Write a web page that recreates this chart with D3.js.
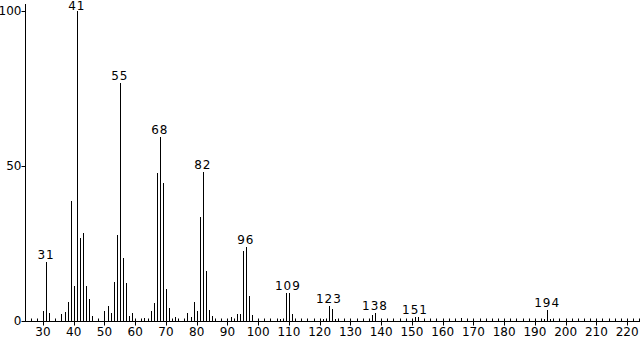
<!DOCTYPE html>
<html>
<head>
<meta charset="utf-8">
<script src="https://cdn.jsdelivr.net/npm/d3@7"></script>
<style>
  body { margin: 0; background: #fff; }
  svg text { font-family: "DejaVu Sans", Verdana, sans-serif; font-size: 12px; fill: #000; }
</style>
</head>
<body>
<svg id="chart" width="644" height="339"></svg>
<script>
// m/z と相対強度
const mz = [30, 31, 32, 36, 37, 38, 39, 40, 41, 42, 43, 44, 45, 46,
            50, 51, 52, 53, 54, 55, 56, 57, 58, 59, 63, 65, 66, 67, 68, 69, 70, 71, 73,
            77, 78, 79, 80, 81, 82, 83, 84, 85, 91, 93, 94, 95, 96, 97, 98,
            107, 108, 109, 110, 111, 121, 122, 123, 124, 125, 137, 138, 151, 152, 166,
            193, 194, 195];
const intensity = [3.2, 19, 2.5, 2.3, 3, 6, 38.7, 11.4, 100, 26.8, 28.4, 11.4, 7, 1.6,
                   3.2, 4.8, 2.5, 12.6, 27.7, 76.7, 20.4, 12.3, 1.6, 2.5, 1, 3.2, 5.8, 47.7, 59.4, 44.5, 10.3, 4.2, 1.2,
                   2.6, 1.3, 6.1, 3.2, 33.5, 48, 16.1, 3.5, 1.6, 1.4, 2.4, 2.4, 22.6, 23.9, 8.1, 1.9,
                   0.6, 0.7, 9.1, 9.1, 2.4, 0.6, 0.8, 4.8, 3.9, 0.6, 1.8, 2.7, 1.3, 1.3, 1,
                   0.6, 3.5, 0.6];
// ラベル付きピーク
const labeled = [31, 41, 55, 68, 82, 96, 109, 123, 138, 151, 194];
const xTicks = d3.range(30, 221, 10);
const yTicks = [0, 50, 100];

const svg = d3.select("#chart");
const x = d3.scaleLinear().domain([24.15, 224.2]).range([25, 640]);
const y = d3.scaleLinear().domain([0, 100]).range([321, 11]);

const peaks = mz.map((m, i) => ({ m: m, v: intensity[i] }));

// ピーク（縦線）
svg.append("g")
    .selectAll("line")
    .data(peaks)
    .join("line")
    .attr("x1", d => Math.round(x(d.m)) + 0.5)
    .attr("x2", d => Math.round(x(d.m)) + 0.5)
    .attr("y1", y(0))
    .attr("y2", d => Math.round(y(d.v)))
    .attr("stroke", "#000")
    .attr("stroke-width", 1);

// ピークラベル（上端で切れないように）
svg.append("g")
    .selectAll("text")
    .data(peaks.filter(d => labeled.includes(d.m)))
    .join("text")
    .attr("x", d => x(d.m) + (d.m === 109 ? 2 : 0))
    .attr("y", d => Math.max(y(d.v) - 3, 10))
    .attr("text-anchor", "middle")
    .style("letter-spacing", "1px")
    .text(d => d.m);

// x軸
const xAxis = svg.append("g").attr("transform", "translate(0,321.5)");
xAxis.append("line")
    .attr("x1", 25).attr("x2", 640)
    .attr("stroke", "#000");
xAxis.selectAll("line.minor")
    .data(d3.range(26, 225, 2).filter(v => v % 10 !== 0))
    .join("line")
    .attr("class", "minor")
    .attr("x1", d => Math.round(x(d)) + 0.5)
    .attr("x2", d => Math.round(x(d)) + 0.5)
    .attr("y1", 0).attr("y2", -3)
    .attr("stroke", "#000");
xAxis.selectAll("line.major")
    .data(xTicks)
    .join("line")
    .attr("class", "major")
    .attr("x1", d => Math.round(x(d)) + 0.5)
    .attr("x2", d => Math.round(x(d)) + 0.5)
    .attr("y1", -3).attr("y2", 4)
    .attr("stroke", "#000");
xAxis.selectAll("text")
    .data(xTicks)
    .join("text")
    .attr("x", d => x(d))
    .attr("y", 14)
    .attr("text-anchor", "middle")
    .text(d => d);

// y軸
const yAxis = svg.append("g").attr("transform", "translate(25.5,0)");
yAxis.append("line")
    .attr("y1", 4).attr("y2", 321.5)
    .attr("stroke", "#000");
yAxis.selectAll("line.tick")
    .data(yTicks)
    .join("line")
    .attr("class", "tick")
    .attr("x1", -4).attr("x2", 0)
    .attr("y1", d => Math.round(y(d)) + 0.5)
    .attr("y2", d => Math.round(y(d)) + 0.5)
    .attr("stroke", "#000");
yAxis.selectAll("text")
    .data(yTicks)
    .join("text")
    .attr("x", -4)
    .attr("y", d => y(d) + 4)
    .attr("text-anchor", "end")
    .text(d => d);
</script>
</body>
</html>
